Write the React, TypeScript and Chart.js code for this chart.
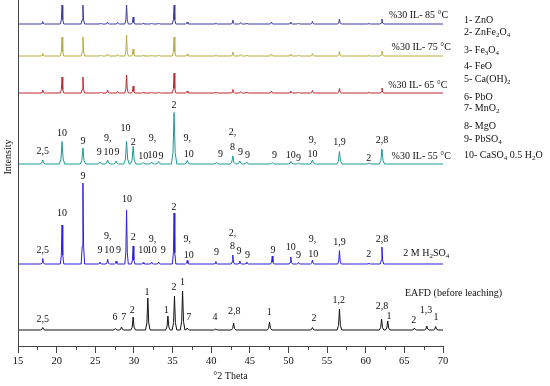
import { useEffect, useRef } from 'react';
import { Chart, registerables } from 'chart.js';
Chart.register(...registerables);

const FONT = "'Liberation Serif', 'Times New Roman', serif";

// x axis (°2θ)
const X_MIN = 15;
const X_MAX = 70;
const X_STEP = 5;
const X_MINOR = [17.5, 22.5, 27.5, 32.5, 37.5, 42.5, 47.5, 52.5, 57.5, 62.5, 67.5];
const Y_MAX = 346;

// trace names and vertical offsets (stacked patterns)
const NAMES = ['%30 IL- 85 °C', '%30 IL- 75 °C', '%30 IL- 65 °C', '%30 IL- 55 °C', '2 M H_2SO_4', 'EAFD (before leaching)'];
const OFFSETS = [322, 290, 253, 182, 82, 16];
const COLORS = ['#3a3a9e', '#b1ad3c', '#c2282e', '#1b9a95', '#2a1fd8', '#111111'];
const WIDTHS = [0.09, 0.09, 0.09, 0.14, 0.09, 0.12];

// peaks: [2θ, intensity above baseline]
const PEAKS_85: [number, number][] = [
  [18.2, 2.5], [20.7, 19], [23.4, 19], [25.7, 1], [26.6, 2], [27.9, 1.5], [29.05, 19], [29.9, 7],
  [31.2, 0.8], [32.3, 1], [33.2, 1], [35.2, 19], [36.9, 2], [40.6, 1], [42.8, 4], [43.8, 1.5],
  [44.6, 1], [47.8, 2], [50.3, 2], [51.3, 1], [53.1, 2.5], [56.6, 5], [60.4, 0.8], [62.1, 5],
];
const PEAKS_75: [number, number][] = [
  [18.2, 2.5], [20.7, 19], [23.4, 19], [25.7, 1], [26.6, 2], [27.9, 1.5], [29.05, 21], [29.9, 7],
  [31.2, 0.8], [32.3, 1], [33.2, 1], [35.2, 19], [36.9, 2], [40.6, 1], [42.8, 4], [43.8, 1.5],
  [44.6, 1], [47.8, 2], [50.3, 2], [51.3, 1], [53.1, 2.5], [56.6, 4.5], [60.4, 0.8], [62.1, 5],
];
const PEAKS_65: [number, number][] = [
  [18.2, 3], [20.7, 16], [23.4, 16], [25.7, 1], [26.6, 3], [27.9, 1.5], [29.05, 18], [29.9, 7],
  [31.2, 0.8], [32.3, 1], [33.2, 1], [35.2, 20], [36.9, 2], [40.6, 1], [42.8, 3.5], [43.8, 1.5],
  [44.6, 1], [47.8, 2], [50.3, 2], [51.3, 1], [53.1, 2.5], [56.6, 4.5], [60.4, 0.8], [62.1, 5],
];
const PEAKS_55: [number, number][] = [
  [18.2, 4], [20.7, 22.5], [23.4, 16], [25.6, 2], [26.6, 4], [27.7, 3], [29.05, 22.5], [29.9, 17.5],
  [31.2, 1.5], [32.3, 2], [33.2, 2.5], [35.2, 51.5], [36.9, 3.5], [40.7, 1.5], [42.8, 8], [43.7, 3],
  [44.6, 2], [47.9, 1.5], [50.3, 2.5], [51.3, 1], [53.1, 4], [56.6, 12.5], [60.4, 1], [62.1, 15],
];
const PEAKS_H2SO4: [number, number][] = [
  [18.2, 5.5], [20.7, 39], [23.4, 81], [25.6, 2], [26.6, 5], [27.7, 3], [29.05, 54], [29.9, 18],
  [31.2, 1.5], [32.3, 2], [33.2, 2], [35.2, 51], [36.9, 3.5], [40.6, 2.5], [42.8, 9], [43.7, 3],
  [44.6, 2], [47.9, 8], [50.3, 7], [51.3, 1.5], [53.1, 4], [56.6, 13.5], [60.4, 1], [62.1, 17],
];
const PEAKS_EAFD: [number, number][] = [
  [18.2, 2.5], [27.6, 1.5], [28.4, 3], [29.9, 13], [31.8, 32], [34.4, 14], [35.25, 34], [36.3, 39],
  [36.9, 2], [40.6, 1], [42.9, 7], [47.55, 8], [53.1, 2.5], [56.6, 21], [62.05, 11], [62.85, 9],
  [66.3, 2], [67.9, 4], [69.05, 3.5],
];
const PEAKS = [PEAKS_85, PEAKS_75, PEAKS_65, PEAKS_55, PEAKS_H2SO4, PEAKS_EAFD];

// phase labels: [2θ, height above baseline, text]
const LABELS_55: [number, number, string][] = [
  [18.2, 12.3, '2,5'], [20.7, 31, '10'], [23.4, 23, '9'], [25.5, 11.3, '9'], [26.6, 26, '9,'],
  [26.7, 11.3, '10'], [27.8, 11.3, '9'], [28.9, 35.7, '10'], [29.9, 21.3, '2'], [31.2, 8, '10'],
  [32.4, 25.7, '9,'], [32.4, 9, '10'], [33.5, 8, '9'], [35.2, 59, '2'], [36.9, 26, '9,'],
  [37.1, 9.7, '10'], [41.2, 9.7, '9'], [42.75, 31.3, '2,'], [42.75, 16.7, '8'], [43.8, 11.7, '9'],
  [44.7, 9, '9'], [48.2, 9, '9'], [50.3, 9, '10'], [51.3, 5.7, '9'], [53.1, 24, '9,'],
  [53.1, 9.7, '10'], [56.6, 21.3, '1,9'], [60.4, 5.7, '2'], [62.1, 24, '2,8'],
];
const LABELS_H2SO4: [number, number, string][] = [
  [18.2, 14, '2,5'], [20.7, 50.7, '10'], [23.4, 88, '9'], [25.6, 13.3, '9'], [26.6, 28, '9,'],
  [26.8, 13.3, '10'], [28.0, 13.3, '9'], [29.1, 65, '10'], [29.9, 26.7, '2'], [31.2, 13.3, '10'],
  [32.3, 13.3, '10'], [32.4, 24.7, '9,'], [33.8, 14, '9'], [35.2, 56.7, '2'], [36.9, 24.7, '9,'],
  [37.1, 9, '10'], [40.7, 11.3, '9'], [42.75, 30.7, '2,'], [42.75, 18, '8'], [43.6, 12.3, '9'],
  [44.7, 9, '9'], [48.0, 13.3, '9'], [50.3, 16.7, '10'], [51.3, 9, '9'], [53.1, 24.7, '9,'],
  [53.2, 10, '10'], [56.6, 22, '1,9'], [60.4, 10, '2'], [62.1, 25, '2,8'],
];
const LABELS_EAFD: [number, number, string][] = [
  [18.2, 11, '2,5'], [27.55, 12.3, '6'], [28.7, 12.3, '7'], [29.8, 20, '2'], [31.7, 37.7, '1'],
  [34.2, 20, '1'], [35.2, 42.7, '2'], [36.3, 47.3, '1'], [37.1, 12.7, '7'], [40.5, 12.3, '4'],
  [43.0, 18.3, '2,8'], [47.5, 17.3, '1'], [53.3, 11.7, '2'], [56.5, 30, '1,2'], [62.1, 24, '2,8'],
  [63.0, 13.3, '1'], [66.2, 10, '2'], [67.8, 19.3, '1,3'], [69.1, 12.3, '1'],
];
const LABELS = [[], [], [], LABELS_55, LABELS_H2SO4, LABELS_EAFD];

// trace name anchors: [2θ of text start, height above baseline]
const NAME_POS: [number, number][] = [[63.0, 9], [63.35, 8.3], [62.9, 7.3], [63.35, 8], [64.87, 11], [65.08, 36.7]];

// phase key
const PHASES = ['1- ZnO', '2- ZnFe_2O_4', '3- Fe_3O_4', '4- FeO', '5- Ca(OH)_2', '6- PbO', '7- MnO_2', '8- MgO', '9- PbSO_4', '10- CaSO_4 0.5 H_2O'];
const PHASE_Y = [20, 32.3, 50, 66.7, 79, 97.3, 108.3, 126, 139, 155];

function profile(peaks: [number, number][], offset: number, w: number) {
  const pts: { x: number; y: number }[] = [{ x: X_MIN, y: offset }];
  const shape: [number, number][] = [[-2.5, 0], [-1, 0.22], [0, 1], [1, 0.22], [2.5, 0]];
  peaks.forEach(([c, h]) => {
    shape.forEach(([dx, f]) => pts.push({ x: c + dx * w, y: offset + f * h }));
  });
  pts.push({ x: X_MAX, y: offset });
  pts.sort((a, b) => a.x - b.x);
  return pts;
}

function drawRich(ctx: CanvasRenderingContext2D, text: string, x: number, y: number, size: number, align: string) {
  const segs: { t: string; sub: boolean }[] = [];
  let buf = '';
  for (let i = 0; i < text.length; i++) {
    if (text[i] === '_') {
      if (buf) { segs.push({ t: buf, sub: false }); buf = ''; }
      segs.push({ t: text[i + 1], sub: true });
      i++;
    } else buf += text[i];
  }
  if (buf) segs.push({ t: buf, sub: false });
  const sub = size * 0.7;
  const widths = segs.map((s) => {
    ctx.font = `${s.sub ? sub : size}px ${FONT}`;
    return ctx.measureText(s.t).width;
  });
  const total = widths.reduce((a, b) => a + b, 0);
  let cx = align === 'center' ? x - total / 2 : align === 'right' ? x - total : x;
  ctx.textAlign = 'left';
  ctx.textBaseline = 'middle';
  segs.forEach((s, k) => {
    ctx.font = `${s.sub ? sub : size}px ${FONT}`;
    ctx.fillText(s.t, cx, s.sub ? y + size * 0.32 : y);
    cx += widths[k];
  });
}

const annotations = {
  id: 'xrdAnnotations',
  afterDraw(chart: any) {
    const { ctx, chartArea, scales } = chart;
    const xs = scales.x;
    const ys = scales.y;
    ctx.save();
    // y axis line
    ctx.strokeStyle = '#444';
    ctx.lineWidth = 1;
    ctx.beginPath();
    ctx.moveTo(Math.round(chartArea.left) + 0.5, chartArea.top);
    ctx.lineTo(Math.round(chartArea.left) + 0.5, chartArea.bottom);
    ctx.stroke();
    // minor ticks
    X_MINOR.forEach((v) => {
      const px = Math.round(xs.getPixelForValue(v)) + 0.5;
      ctx.beginPath();
      ctx.moveTo(px, chartArea.bottom);
      ctx.lineTo(px, chartArea.bottom + 4);
      ctx.stroke();
    });
    ctx.fillStyle = '#111';
    // peak labels
    LABELS.forEach((list, i) => {
      (list as [number, number, string][]).forEach(([t, h, txt]) => {
        drawRich(ctx, txt, xs.getPixelForValue(t), ys.getPixelForValue(OFFSETS[i] + h), 10, 'center');
      });
    });
    // trace names
    NAMES.forEach((n, i) => {
      const [t, h] = NAME_POS[i];
      drawRich(ctx, n, xs.getPixelForValue(t), ys.getPixelForValue(OFFSETS[i] + h), 10, 'left');
    });
    // phase key
    PHASES.forEach((p, i) => {
      drawRich(ctx, p, chartArea.right + 21, PHASE_Y[i], 10, 'left');
    });
    // y title
    ctx.save();
    ctx.translate(8, 157);
    ctx.rotate(-Math.PI / 2);
    ctx.font = `10px ${FONT}`;
    ctx.textAlign = 'center';
    ctx.textBaseline = 'middle';
    ctx.fillText('Intensity', 0, 0);
    ctx.restore();
    ctx.restore();
  },
};

export default function App() {
  const ref = useRef<HTMLCanvasElement | null>(null);
  useEffect(() => {
    if (!ref.current) return;
    const datasets = PEAKS.map((p, i) => ({
      label: NAMES[i],
      data: profile(p, OFFSETS[i], WIDTHS[i]),
      borderColor: COLORS[i],
      backgroundColor: COLORS[i],
      borderWidth: 1,
      pointRadius: 0,
      tension: 0,
    }));
    const chart = new Chart(ref.current, {
      type: 'line',
      data: { datasets },
      options: {
        responsive: false,
        animation: false,
        events: [],
        layout: { padding: { left: 18, right: 107, top: 0, bottom: 0 } },
        plugins: { legend: { display: false }, tooltip: { enabled: false } },
        scales: {
          x: {
            type: 'linear',
            min: X_MIN,
            max: X_MAX,
            ticks: { stepSize: X_STEP, autoSkip: false, padding: 2, color: '#111', font: { family: FONT, size: 10.5 } },
            grid: { drawOnChartArea: false, drawTicks: true, tickLength: 7, color: '#444' },
            border: { display: true, color: '#444', width: 1 },
            title: { display: true, text: '°2 Theta', color: '#111', font: { family: FONT, size: 10 }, padding: { top: 0.4, bottom: 4 } },
          },
          y: { type: 'linear', min: 0, max: Y_MAX, display: false },
        },
      },
      plugins: [annotations],
    });
    return () => chart.destroy();
  }, []);
  return (
    <div style={{ position: 'absolute', left: 0, top: 0, width: 550, height: 386, background: '#fff' }}>
      <canvas ref={ref} width={550} height={386} />
    </div>
  );
}
